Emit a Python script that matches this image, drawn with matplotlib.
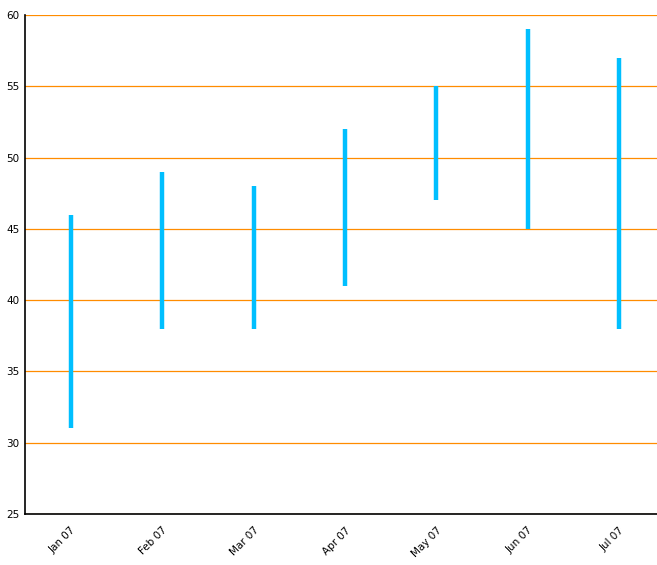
import matplotlib
matplotlib.use("Agg")
import matplotlib.pyplot as plt

months = ["Jan 07", "Feb 07", "Mar 07", "Apr 07", "May 07", "Jun 07", "Jul 07"]
lows = [31, 38, 38, 41, 47, 45, 38]
highs = [46, 49, 48, 52, 55, 59, 57]

fig = plt.figure(figsize=(6.57, 5.65), dpi=100)
# category slots are ~91.5px wide, so the plot area runs slightly past the right edge
ax = fig.add_axes([25 / 657, 51 / 565, 640 / 657, 499 / 565])

x = list(range(len(months)))
ax.vlines(x, lows, highs, color="#00BFFF", linewidth=3.2, zorder=3)

ax.set_xlim(-0.5, len(months) - 0.5)
ax.set_ylim(25, 60)
ax.set_yticks(range(25, 61, 5))
ax.yaxis.grid(True, color="#FF8C00", linewidth=0.9)
ax.set_axisbelow(True)

ax.set_xticks(x)
ax.set_xticklabels(months, rotation=45, ha="right", rotation_mode="anchor")
ax.tick_params(axis="both", length=0, labelsize=7.5, pad=4)
ax.tick_params(axis="x", pad=8)

ax.spines["top"].set_visible(False)
ax.spines["right"].set_visible(False)
ax.spines["left"].set_linewidth(1.2)
ax.spines["bottom"].set_linewidth(1.2)

fig.savefig("out.png", dpi=100)
